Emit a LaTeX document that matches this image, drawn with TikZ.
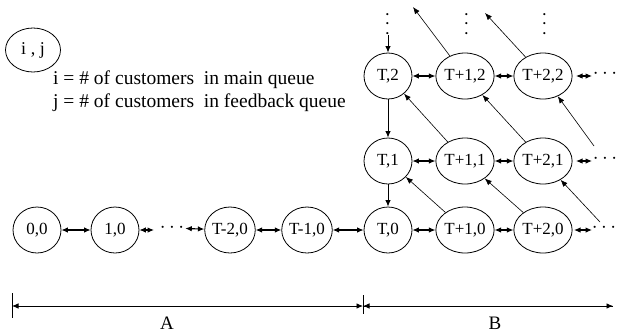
\documentclass[tikz,border=0pt]{standalone}
\usepackage{fontspec}
\setmainfont{Liberation Serif}
\usetikzlibrary{shapes.geometric,arrows.meta}
\tikzset{
  state/.style={ellipse,draw,line width=0.8pt,minimum width=48pt,minimum height=46pt,inner sep=0pt,font=\fontsize{17}{20}\selectfont},
  harrow/.style={{Latex[length=6.5pt,width=5.5pt]}-{Latex[length=6.5pt,width=5.5pt]},line width=1.1pt},
  varrow/.style={-{Latex[length=6.5pt,width=5.5pt]},line width=1pt},
  darrow/.style={-{Latex[length=7pt,width=5.5pt]},line width=0.6pt},
  dotsh/.style={inner sep=1pt,font=\fontsize{20}{22}\selectfont},
  dotsv/.style={inner sep=0pt,rotate=90,font=\fontsize{20}{22}\selectfont},
  legend/.style={anchor=west,inner sep=0pt,font=\fontsize{19.5}{22}\selectfont},
  axislabel/.style={inner sep=0pt,font=\fontsize{19}{22}\selectfont}
}
\begin{document}
\begin{tikzpicture}[x=1pt,y=-1pt]
\useasboundingbox (0,0) rectangle (620,333);

% legend
\node[state,minimum width=55pt,minimum height=44pt,font=\fontsize{18}{20}\selectfont] (key) at (33,50) {i , j};
\node[legend] (li) at (53,80) {i = \# of customers\ \ in main queue};
\node[legend] (lj) at (53,103) {j = \# of customers\ \ in feedback queue};

% bottom row
\node[state] (n00) at (37,230) {0,0};
\node[state] (n10) at (115,230) {1,0};
\node[state] (nT2) at (230,230) {T-2,0};
\node[state] (nT1) at (307,230) {T-1,0};
\node[state] (t0) at (388,230) {T,0};
\node[state] (u0) at (465,230) {T+1,0};
\node[state] (v0) at (543,230) {T+2,0};
% middle row
\node[state] (t1) at (388,161) {T,1};
\node[state] (u1) at (465,161) {T+1,1};
\node[state] (v1) at (543,161) {T+2,1};
% top row
\node[state] (t2) at (388,76) {T,2};
\node[state] (u2) at (465,76) {T+1,2};
\node[state] (v2) at (543,76) {T+2,2};

% horizontal transitions
\draw[harrow] (n00) -- (n10);
\coordinate (a1) at (154,230);
\draw[harrow] (n10) -- (a1);
\node[dotsh] (d1) at (172,228) {$\cdots$};
\draw[harrow] (d1) -- (nT2);
\draw[harrow] (nT2) -- (nT1);
\draw[harrow] (nT1) -- (t0);
\draw[harrow] (t0) -- (u0);
\draw[harrow] (u0) -- (v0);
\draw[harrow] (t1) -- (u1);
\draw[harrow] (u1) -- (v1);
\draw[harrow] (t2) -- (u2);
\draw[harrow] (u2) -- (v2);

% continuation to the right
\coordinate (s0) at (574,230);
\coordinate (s1) at (576,161);
\coordinate (s2) at (576,76);
\coordinate (e0) at (592,230);
\coordinate (e1) at (592,161);
\coordinate (e2) at (592,76);
\draw[harrow] (s0) -- (e0);
\draw[harrow] (s1) -- (e1);
\draw[harrow] (s2) -- (e2);
\node[dotsh] (r0d) at (604,228) {$\cdots$};
\node[dotsh] (r1d) at (605,159) {$\cdots$};
\node[dotsh] (r2d) at (605,74) {$\cdots$};

% vertical transitions
\draw[varrow] (t2) -- (t1);
\draw[varrow] (t1) -- (t0);
\node[dotsv] (vd0) at (388,24) {$\cdots$};
\node[dotsv] (vd1) at (467,24) {$\cdots$};
\node[dotsv] (vd2) at (545,24) {$\cdots$};
\coordinate (ta) at (388,35);
\draw[varrow] (ta) -- (t2);

% diagonal transitions
\draw[darrow] (u0) -- (t1);
\draw[darrow] (v0) -- (u1);
\coordinate (q0) at (600,222);
\draw[darrow] (q0) -- (v1);
\draw[darrow] (u1) -- (t2);
\draw[darrow] (v1) -- (u2);
\coordinate (q1) at (594,146);
\draw[darrow] (q1) -- (v2);
\coordinate (o1) at (413,7);
\coordinate (o2) at (485,13);
\draw[darrow] (u2) -- (o1);
\draw[darrow] (v2) -- (o2);

% ranges A and B
\coordinate (k0) at (12,306);
\coordinate (k1) at (363,306);
\coordinate (k2) at (613,306);
\draw[line width=0.8pt] (12,293) -- (12,318);
\draw[line width=0.8pt] (363,295) -- (363,314);
\draw[harrow,line width=0.9pt] (k0) -- (k1);
\draw[varrow,line width=0.9pt] (k1) -- (k2);
\draw[line width=0.9pt,-{Latex[length=6.5pt,width=5.5pt]}] (k2) -- (k1);
\node[axislabel] (la) at (167,323) {A};
\node[axislabel] (lb) at (495,323) {B};
\end{tikzpicture}
\end{document}
